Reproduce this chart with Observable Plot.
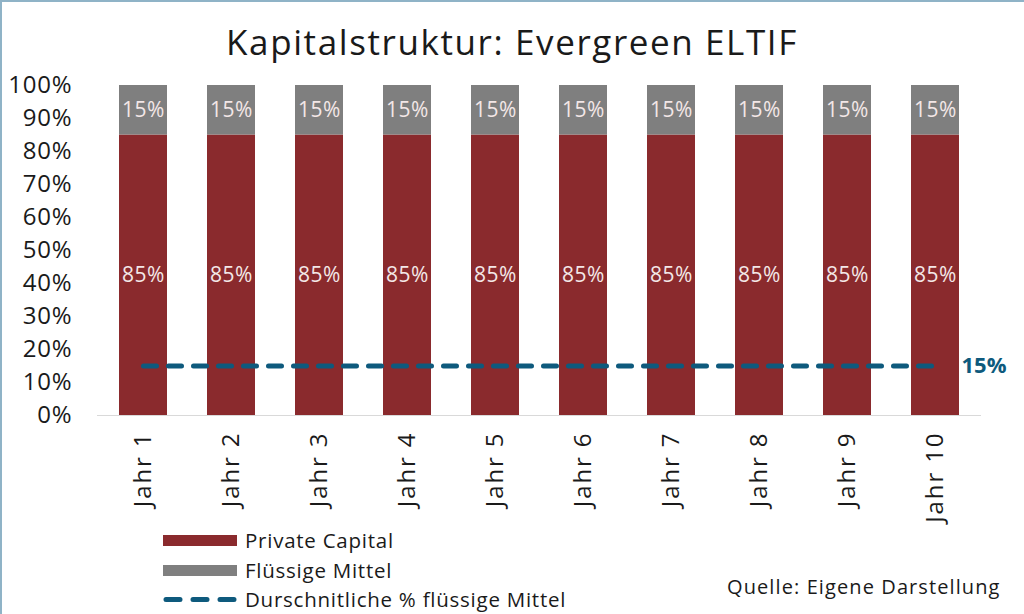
<!DOCTYPE html>
<html>
<head>
<meta charset="utf-8">
<script src="https://cdn.jsdelivr.net/npm/d3@7"></script>
<script src="https://cdn.jsdelivr.net/npm/@observablehq/plot@0.6"></script>
<style>
  html, body { margin: 0; padding: 0; background: #fff; }
  #wrap { position: relative; width: 1024px; height: 614px; overflow: hidden; background: #fff;
          font-family: "Open Sans", "Noto Sans", sans-serif; color: #1a1a1a; }
  #wrap::before { content: ""; position: absolute; left: 0; top: 0; right: 0; height: 2px; background: #8fb3c7; z-index: 5; }
  #wrap::after { content: ""; position: absolute; left: 0; top: 0; bottom: 0; width: 2px; background: #8fb3c7; z-index: 5; }
  #title { position: absolute; left: 0; width: 1024px; top: 18px; text-align: center; font-size: 35px; font-weight: 400; letter-spacing: 1.6px; }
  #chart { position: absolute; left: 0; top: 0; }
  #chart g[aria-label="x-axis tick label"] text { letter-spacing: 1.9px; }
  #chart g[aria-label="y-axis tick label"] text { letter-spacing: 0.8px; }
  #chart g.barlabels text { letter-spacing: 0.5px; }
  .leg { position: absolute; left: 163px; font-size: 20.5px; letter-spacing: 0.75px; display: flex; align-items: center; }
  .leg .sw { width: 74px; height: 11px; margin-right: 8px; }
  #source { position: absolute; left: 727px; top: 573px; font-size: 20px; letter-spacing: 1.1px; }
</style>
</head>
<body>
<div id="wrap">
  <div id="chart"></div>
  <div id="title">Kapitalstruktur: Evergreen ELTIF</div>
  <div id="legend"></div>
  <div id="source">Quelle: Eigene Darstellung</div>
</div>
<script>
// ---- data ----
const years = ["Jahr 1","Jahr 2","Jahr 3","Jahr 4","Jahr 5","Jahr 6","Jahr 7","Jahr 8","Jahr 9","Jahr 10"];
const privateCapital = [85, 85, 85, 85, 85, 85, 85, 85, 85, 85];
const fluessigeMittel = [15, 15, 15, 15, 15, 15, 15, 15, 15, 15];
const avgFluessig = [15, 15, 15, 15, 15, 15, 15, 15, 15, 15];
const seriesNames = ["Private Capital", "Flüssige Mittel", "Durschnitliche % flüssige Mittel"];
const yTicks = [0, 10, 20, 30, 40, 50, 60, 70, 80, 90, 100];

const colors = { "Private Capital": "#8a2a2d", "Flüssige Mittel": "#7f7f7f", line: "#0e5a7d" };

const rows = [];
years.forEach((y, i) => {
  rows.push({ year: y, series: seriesNames[0], value: privateCapital[i] });
  rows.push({ year: y, series: seriesNames[1], value: fluessigeMittel[i] });
});
const lineRows = years.map((y, i) => ({ year: y, value: avgFluessig[i] }));

const fontFam = '"Open Sans", "Noto Sans", sans-serif';

const chart = Plot.plot({
  width: 1024,
  height: 614,
  marginTop: 85,
  marginBottom: 199,
  marginLeft: 97,
  marginRight: 43,
  style: { fontFamily: fontFam, background: "transparent", color: "#1a1a1a" },
  x: { domain: years, paddingInner: 0.457, paddingOuter: 0.2285, align: 0.5, label: null, axis: null },
  y: { domain: [0, 100], label: null, axis: null },
  color: { domain: seriesNames.slice(0, 2), range: [colors["Private Capital"], colors["Flüssige Mittel"]] },
  marks: [
    Plot.axisY({ ticks: yTicks, tickSize: 0, tickPadding: 25, tickFormat: d => d + "%", fontSize: 24, label: null, fill: "#1a1a1a" }),
    Plot.axisX({ tickSize: 0, tickPadding: 16, tickRotate: -90, fontSize: 24, label: null, fill: "#1a1a1a" }),
    Plot.barY(rows, { x: "year", y: "value", fill: "series", z: "series", order: seriesNames.slice(0, 2) }),
    Plot.text(rows, Plot.stackY({ x: "year", y: "value", z: "series", order: seriesNames.slice(0, 2), text: d => d.value + "%", fill: "#f3e7e7", fontSize: 21, className: "barlabels" })),
    Plot.ruleY([0], { stroke: "#d9d9d9", strokeWidth: 1.2 }),
    Plot.lineY(lineRows, { x: "year", y: "value", stroke: colors.line, strokeWidth: 5, strokeDasharray: "13,12", strokeLinecap: "round" }),
    Plot.text(lineRows.slice(-1), { x: "year", y: "value", text: d => d.value + "%", dx: 26, textAnchor: "start", fill: colors.line, fontWeight: "bold", fontSize: 22 })
  ]
});
document.getElementById("chart").appendChild(chart);

// ---- legend ----
const legend = document.getElementById("legend");
const legTops = [526, 556, 585];
seriesNames.forEach((name, i) => {
  const item = document.createElement("div");
  item.className = "leg";
  item.style.top = legTops[i] + "px";
  let sw;
  if (i < 2) {
    sw = `<div class="sw" style="background:${colors[name]}"></div>`;
  } else {
    sw = `<svg width="74" height="11" style="margin-right:8px"><line x1="3" x2="71" y1="5.5" y2="5.5" stroke="${colors.line}" stroke-width="5" stroke-linecap="round" stroke-dasharray="14,13"/></svg>`;
  }
  item.innerHTML = sw + `<span>${name}</span>`;
  legend.appendChild(item);
});
</script>
</body>
</html>
